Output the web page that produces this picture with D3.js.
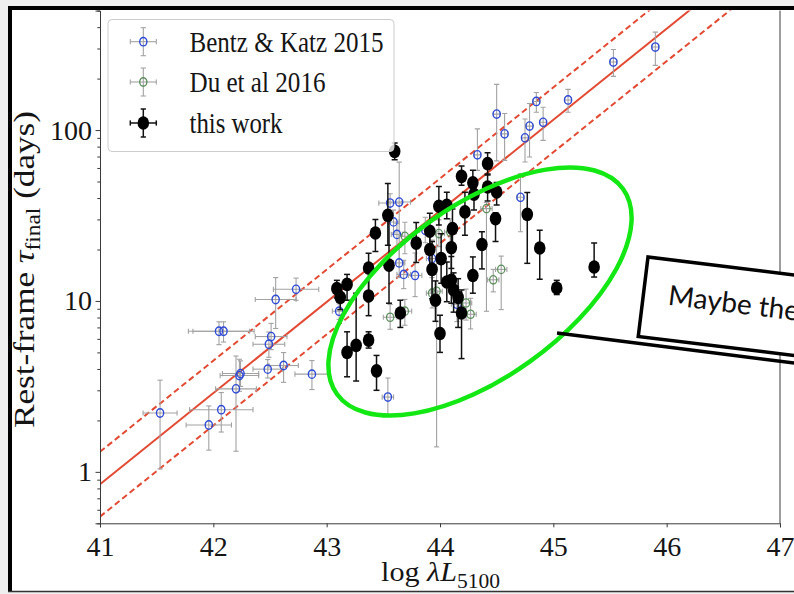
<!DOCTYPE html>
<html>
<head>
<meta charset="utf-8">
<script src="https://cdn.jsdelivr.net/npm/d3@7"></script>
<style>
  html, body { margin: 0; padding: 0; background: #efefef; }
  svg { display: block; }
  .serif { font-family: "Liberation Serif", "DejaVu Serif", serif; fill: #151515; }
</style>
</head>
<body>
<div id="chart"></div>
<script>
// Bentz & Katz 2015 (log L5100, x error, tau in days, lower / upper error)
const bkLogL  = [41.53, 41.96, 42.07, 42.20, 42.23, 42.24, 42.05, 42.09, 42.48, 42.62, 42.87, 42.49, 42.51,
                 42.55, 42.73, 43.11, 43.54, 43.56, 43.64, 43.59, 43.62, 43.64, 43.68, 43.78, 43.93, 44.15,
                 44.33, 44.50, 44.57, 44.71, 44.75, 44.79, 44.85, 44.91, 45.13, 45.53, 45.90, 43.87];
const bkLogLErr = [0.15, 0.20, 0.28, 0.18, 0.17, 0.16, 0.27, 0.27, 0.13, 0.13, 0.15, 0.14, 0.14,
                   0.18, 0.20, 0.06, 0.05, 0.10, 0.10, 0.05, 0.05, 0.05, 0.06, 0.06, 0.05, 0.05,
                   0.03, 0.03, 0.03, 0.03, 0.03, 0.03, 0.03, 0.03, 0.03, 0.03, 0.03, 0.05];
const bkTau   = [2.21, 1.88, 2.31, 3.06, 3.66, 3.76, 6.65, 6.65, 3.99, 4.19, 3.73, 5.58, 6.19,
                 10.2, 11.7, 8.71, 2.74, 37.4, 37.9, 29.0, 24.5, 16.7, 14.3, 14.1, 17.7, 9.57,
                 71.6, 124, 95, 40.4, 90, 105.5, 147, 111, 150, 250, 306, 25.9];
const bkTauLo = [1.17, 0.54, 0.6, 1.74, 0.7, 0.6, 1.1, 0.9, 0.45, 0.85, 0.7, 0.9, 1.0,
                 3.3, 1.6, 0.9, 0.6, 5, 22, 4, 4, 3, 2.5, 3.5, 4, 2,
                 13.5, 58, 28.5, 15, 25, 36, 20, 24, 23, 44, 67, 4];
const bkTauHi = [1.23, 0.55, 0.6, 1.7, 0.9, 0.7, 0.9, 0.9, 0.55, 0.8, 0.75, 1.0, 1.2,
                 3.5, 1.9, 0.9, 0.8, 5, 27, 5, 4, 4, 3, 5, 5, 2.5,
                 30, 61, 30, 15, 26, 37.5, 19, 25, 23, 46, 68, 5];

// Du et al 2016
const duLogL    = [43.56, 43.69, 43.69, 43.97, 43.93, 43.99, 44.09, 44.23, 44.27, 44.41, 44.47, 44.54];
const duLogLErr = [0.06, 0.06, 0.05, 0.05, 0.05, 0.05, 0.05, 0.05, 0.05, 0.05, 0.05, 0.05];
const duTau     = [8.03, 8.71, 23.9, 11.4, 11.1, 24.8, 25.3, 9.73, 8.36, 34.7, 13.3, 15.3];
const duTauLo   = [1.2, 1.5, 5, 10, 2, 4, 5, 2, 1.5, 26, 2, 6.4];
const duTauHi   = [1.5, 1.5, 5, 14, 3, 5, 5, 2, 2, 3, 2, 3];

// this work
const twLogL  = [43.60, 43.54, 43.43, 43.37, 43.37, 43.37, 43.55, 43.65, 43.44, 43.26, 43.18, 43.18, 43.12, 43.09,
                 43.79, 43.91, 43.91, 43.99, 44.06, 43.93, 44.01, 44.11, 44.10, 44.06, 44.10, 44.12, 44.16, 43.96,
                 44.00, 44.19, 44.19, 44.29, 44.30, 44.42, 44.42, 44.50, 44.22, 44.49, 44.37, 44.29, 44.77, 44.88,
                 45.03, 45.36];
const twTau   = [75.0, 31.7, 25.0, 15.6, 10.7, 5.9, 16.2, 8.5, 3.9, 5.5, 5.0, 12.5, 10.5, 11.8,
                 21.8, 25.6, 20.0, 35.8, 36.3, 15.3, 17.7, 26.5, 20.5, 12.9, 13.2, 11.6, 10.5, 10.1,
                 6.45, 8.5, 53.6, 49.1, 42.1, 63.6, 46.4, 43.4, 33.2, 30.3, 21.4, 14.1, 32.1, 20.4,
                 11.9, 15.8];
const twTauLo = [8, 10.5, 5.5, 4.5, 2.5, 0.6, 6.5, 1.5, 0.9, 2.1, 1.4, 2.4, 1.6, 1.4,
                 5, 5.5, 5, 8, 6, 5, 5, 6, 5, 3, 3.5, 3, 3.5, 2.5,
                 1.45, 3.9, 6, 8, 8, 9, 8, 7, 9, 8, 6, 3, 15.5, 7,
                 1.0, 2];
const twTauHi = [9, 17, 5, 3.4, 3.8, 0.7, 15.5, 1.6, 0.9, 5.6, 1.6, 1.8, 1.9, 1.4,
                 7, 7, 5, 11, 7, 7, 7, 8, 6.5, 4, 5, 3, 3, 3,
                 1.8, 3.1, 8, 9, 8, 10, 9, 6, 10, 2.5, 4, 4, 11, 5.5,
                 1.3, 6];

// R-L relation and its +/- scatter (end points, days)
const relLogL  = [41, 47];
const relTau   = [0.847, 1337];
const relTauHi = [1.31, 2070];
const relTauLo = [0.547, 863];

const xTicks = [41, 42, 43, 44, 45, 46, 47];
const yTicks = [1, 10, 100];
const legendLabels = ["Bentz & Katz 2015", "Du et al 2016", "this work"];

let width = 794,
    height = 594;
const plotLeft = 100, plotRight = 780, plotTop = 10.6, plotBottom = 523.3;

const svg = d3.select("#chart")
      .append("svg")
      .attr("width", width)
      .attr("height", height);

// slide background
svg.append("rect")
  .attr("x", 12).attr("y", 10)
  .attr("width", width - 12).attr("height", 581)
  .attr("fill", "#fff");

const x = d3.scaleLinear().domain([41, 47]).range([plotLeft, plotRight]);
const y = d3.scaleLog().domain([0.5, 500]).range([plotBottom, plotTop]);

svg.append("clipPath").attr("id", "plotclip")
  .append("rect")
  .attr("x", plotLeft).attr("y", plotTop)
  .attr("width", plotRight - plotLeft).attr("height", plotBottom - plotTop);

// relation lines
const red = "#e24a33";
const line = d3.line().x(d => x(d[0])).y(d => y(d[1]));
const rel = svg.append("g").attr("clip-path", "url(#plotclip)");
[[relTau, null], [relTauHi, "6,3.5"], [relTauLo, "6,3.5"]].forEach(function (r) {
  rel.append("path")
    .datum(relLogL.map((v, i) => [v, r[0][i]]))
    .attr("d", line)
    .attr("fill", "none")
    .attr("stroke", red)
    .attr("stroke-width", 2)
    .attr("stroke-dasharray", r[1]);
});

function makePoints(xs, xe, ts, lo, hi) {
  return xs.map((v, i) => ({x: v, xe: xe ? xe[i] : 0, t: ts[i], lo: lo[i], hi: hi[i]}));
}

function drawErrors(layer, pts, color, sw, cap) {
  const g = layer.append("g").attr("stroke", color).attr("stroke-width", sw);
  pts.forEach(function (d) {
    const cx = x(d.x), cy = y(d.t), y1 = y(d.t - d.lo), y2 = y(d.t + d.hi);
    g.append("line").attr("x1", cx).attr("x2", cx).attr("y1", y1).attr("y2", y2);
    g.append("line").attr("x1", cx - cap).attr("x2", cx + cap).attr("y1", y1).attr("y2", y1);
    g.append("line").attr("x1", cx - cap).attr("x2", cx + cap).attr("y1", y2).attr("y2", y2);
    if (d.xe) {
      const x1 = x(d.x - d.xe), x2 = x(d.x + d.xe);
      g.append("line").attr("x1", x1).attr("x2", x2).attr("y1", cy).attr("y2", cy);
      g.append("line").attr("x1", x1).attr("x2", x1).attr("y1", cy - cap).attr("y2", cy + cap);
      g.append("line").attr("x1", x2).attr("x2", x2).attr("y1", cy - cap).attr("y2", cy + cap);
    }
  });
}

const blue = "#2f4bd6", green = "#5f8f5f", errGrey = "#a2a2a2";
const marks = svg.append("g").attr("clip-path", "url(#plotclip)");

const bkPts = makePoints(bkLogL, bkLogLErr, bkTau, bkTauLo, bkTauHi);
const duPts = makePoints(duLogL, duLogLErr, duTau, duTauLo, duTauHi);
const twPts = makePoints(twLogL, null, twTau, twTauLo, twTauHi);

drawErrors(marks, bkPts, errGrey, 1.1, 2.6);
marks.append("g").selectAll("ellipse")
  .data(bkPts).enter().append("ellipse")
  .attr("cx", d => x(d.x)).attr("cy", d => y(d.t))
  .attr("rx", 3.6).attr("ry", 4.2)
  .attr("fill", "none").attr("stroke", blue).attr("stroke-width", 1.4);

drawErrors(marks, duPts, errGrey, 1.1, 2.6);
marks.append("g").selectAll("ellipse")
  .data(duPts).enter().append("ellipse")
  .attr("cx", d => x(d.x)).attr("cy", d => y(d.t))
  .attr("rx", 3.6).attr("ry", 4.2)
  .attr("fill", "none").attr("stroke", green).attr("stroke-width", 1.3);

drawErrors(marks, twPts, "#111", 1.5, 3);
marks.append("g").selectAll("ellipse")
  .data(twPts).enter().append("ellipse")
  .attr("cx", d => x(d.x)).attr("cy", d => y(d.t))
  .attr("rx", 5.8).attr("ry", 6.8)
  .attr("fill", "#000");

// axes
const axisColor = "#3a3a3a";
const xAxis = svg.append("g")
  .attr("transform", "translate(0," + plotBottom + ")")
  .call(d3.axisBottom(x).tickValues(xTicks).tickSize(4).tickPadding(9).tickFormat(d3.format("d")));
xAxis.selectAll("text").attr("class", "serif").attr("font-size", 28);

const yAxis = svg.append("g")
  .attr("transform", "translate(" + plotLeft + ",0)")
  .call(d3.axisLeft(y).tickValues(yTicks).tickSize(4.5).tickPadding(3.5).tickFormat(d3.format("d")));
yAxis.selectAll("text").attr("class", "serif").attr("font-size", 28);

const minor = y.ticks().filter(v => Math.abs(Math.log10(v) - Math.round(Math.log10(v))) > 1e-6);
svg.append("g")
  .attr("transform", "translate(" + plotLeft + ",0)")
  .call(d3.axisLeft(y).tickValues(minor).tickSize(2.7).tickFormat(""))
  .select(".domain").remove();

svg.selectAll(".domain, .tick line").attr("stroke", axisColor);
svg.append("line")
  .attr("x1", plotRight).attr("x2", plotRight)
  .attr("y1", plotTop).attr("y2", plotBottom)
  .attr("stroke", axisColor);

// axis labels
const ylab = svg.append("text").attr("class", "serif")
  .attr("transform", "translate(34,269.5) rotate(-90)")
  .attr("text-anchor", "middle")
  .attr("font-size", 30)
  .attr("textLength", 317)
  .attr("lengthAdjust", "spacingAndGlyphs");
ylab.append("tspan").text("Rest-frame ");
ylab.append("tspan").attr("font-style", "italic").text("τ");
ylab.append("tspan").attr("font-size", 20).attr("dy", 6).text("final");
ylab.append("tspan").attr("dy", -6).text(" (days)");

const xlab = svg.append("text").attr("class", "serif")
  .attr("x", 381).attr("y", 581)
  .attr("font-size", 28)
  .attr("textLength", 119)
  .attr("lengthAdjust", "spacingAndGlyphs");
xlab.append("tspan").text("log ");
xlab.append("tspan").attr("font-style", "italic").text("λL");
xlab.append("tspan").attr("font-size", 20).attr("dy", 7).text("5100");

// legend
const legend = svg.append("g");
legend.append("rect")
  .attr("x", 108).attr("y", 19.5)
  .attr("width", 286).attr("height", 132)
  .attr("rx", 4)
  .attr("fill", "#fff").attr("fill-opacity", 0.8)
  .attr("stroke", "#cccccc");

const legendRows = [
  {cy: 41.7, color: blue, err: errGrey, fill: false},
  {cy: 82, color: green, err: errGrey, fill: false},
  {cy: 123, color: "#000", err: "#111", fill: true}
];
const legendWidths = [194, 136, 93];
legendRows.forEach(function (r, i) {
  const cx = 143.3;
  const g = legend.append("g").attr("stroke", r.err).attr("stroke-width", r.fill ? 1.5 : 1.1);
  g.append("line").attr("x1", cx - 13).attr("x2", cx + 13).attr("y1", r.cy).attr("y2", r.cy);
  g.append("line").attr("x1", cx).attr("x2", cx).attr("y1", r.cy - 14).attr("y2", r.cy + 14);
  [-13, 13].forEach(function (o) {
    g.append("line").attr("x1", cx + o).attr("x2", cx + o).attr("y1", r.cy - 2.6).attr("y2", r.cy + 2.6);
    g.append("line").attr("x1", cx - 2.6).attr("x2", cx + 2.6).attr("y1", r.cy + o + (o > 0 ? 1 : -1)).attr("y2", r.cy + o + (o > 0 ? 1 : -1));
  });
  legend.append("ellipse")
    .attr("cx", cx).attr("cy", r.cy)
    .attr("rx", r.fill ? 5.8 : 3.6).attr("ry", r.fill ? 6.8 : 4.2)
    .attr("fill", r.fill ? r.color : "none")
    .attr("stroke", r.fill ? "none" : r.color)
    .attr("stroke-width", 1.4);
  legend.append("text").attr("class", "serif")
    .attr("x", 189.5).attr("y", r.cy + 10)
    .attr("font-size", 29)
    .attr("textLength", legendWidths[i])
    .attr("lengthAdjust", "spacingAndGlyphs")
    .text(legendLabels[i]);
});

// annotation: green ellipse and callout
svg.append("ellipse")
  .attr("cx", 480).attr("cy", 291.5)
  .attr("rx", 176).attr("ry", 86)
  .attr("transform", "rotate(-35.6 480 291.5)")
  .attr("fill", "none")
  .attr("stroke", "#14e814")
  .attr("stroke-width", 4.5);

svg.append("line")
  .attr("x1", 557).attr("y1", 333)
  .attr("x2", 800).attr("y2", 363.7)
  .attr("stroke", "#000").attr("stroke-width", 3.5);

const callout = svg.append("g").attr("transform", "translate(648,257) rotate(7)");
callout.append("rect")
  .attr("x", 0).attr("y", 0)
  .attr("width", 260).attr("height", 80)
  .attr("fill", "#fff")
  .attr("stroke", "#000").attr("stroke-width", 3.5);
callout.append("text")
  .attr("x", 25).attr("y", 45)
  .attr("font-family", "Lato, 'Open Sans', sans-serif")
  .attr("font-size", 28)
  .attr("fill", "#111")
  .text("Maybe the");

// screenshot frame
svg.append("line").attr("x1", 10).attr("x2", 10).attr("y1", 6).attr("y2", 592)
  .attr("stroke", "#000").attr("stroke-width", 4);
svg.append("line").attr("x1", 8).attr("x2", width).attr("y1", 8).attr("y2", 8)
  .attr("stroke", "#000").attr("stroke-width", 4);
svg.append("line").attr("x1", 8).attr("x2", width).attr("y1", 591.5).attr("y2", 591.5)
  .attr("stroke", "#333").attr("stroke-width", 1.5);
</script>
</body>
</html>
